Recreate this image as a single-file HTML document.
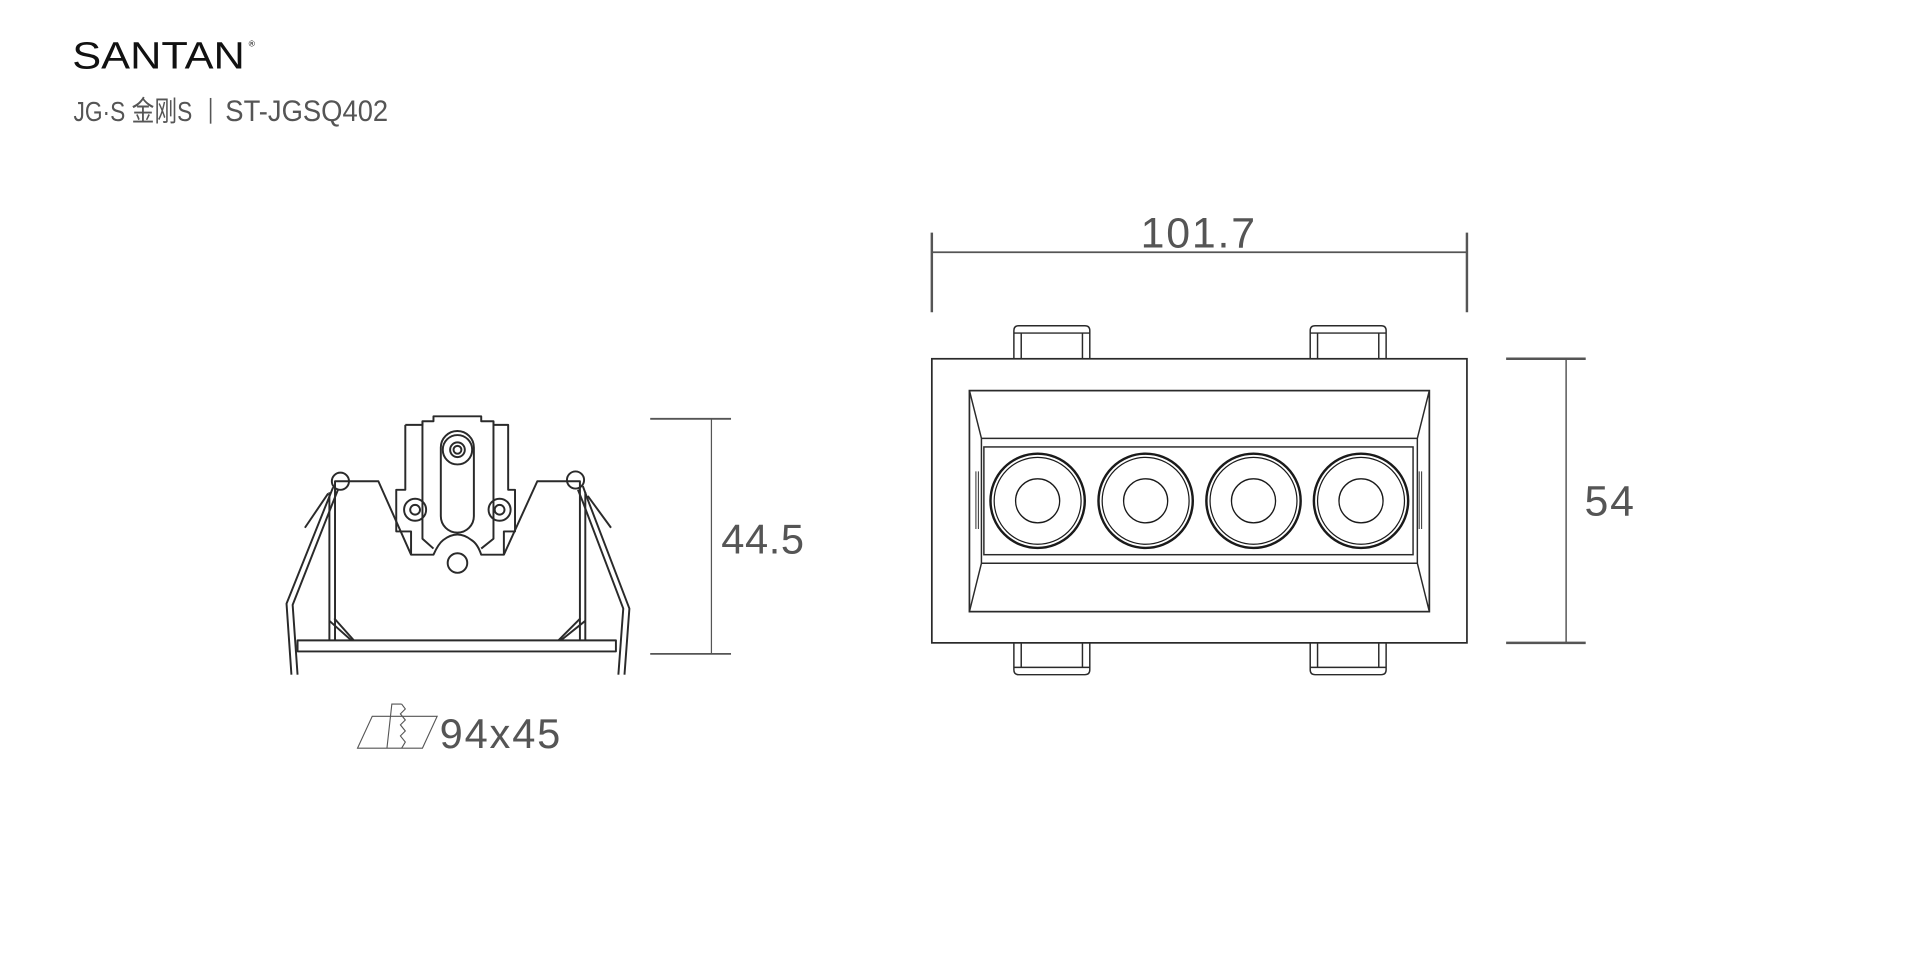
<!DOCTYPE html>
<html><head><meta charset="utf-8"><style>
html,body{margin:0;padding:0;background:#fff;width:1920px;height:960px;overflow:hidden}
svg{display:block}
text{font-family:"Liberation Sans","Noto Sans CJK SC",sans-serif}
</style></head><body>
<svg width="1920" height="960" viewBox="0 0 1568 784" xmlns="http://www.w3.org/2000/svg">
<rect width="1568" height="784" fill="#fff"/>
<!-- header -->
<text x="59" y="56" font-size="31" fill="#111" textLength="141" lengthAdjust="spacingAndGlyphs">SANTAN</text>
<text x="203" y="38" font-size="7" fill="#111">®</text>
<text x="60" y="99" font-size="23" fill="#555" textLength="97" lengthAdjust="spacingAndGlyphs">JG·S 金刚S</text>
<line x1="172" y1="80" x2="172" y2="101" stroke="#555" stroke-width="1.3"/>
<text x="184" y="99" font-size="24" fill="#555" textLength="133" lengthAdjust="spacingAndGlyphs">ST-JGSQ402</text>

<!-- LEFT VIEW -->
<g fill="none" stroke="#2a2a2a" stroke-width="1.6" stroke-linejoin="round">
  <circle cx="278" cy="393" r="7"/>
  <path d="M272 398 L268 408 L234 493 L238 551"/>
  <path d="M276 400 L272 410 L239 494 L243 551"/>
  <path d="M249 431 L268 403"/>
  <circle cx="470" cy="392" r="7"/>
  <path d="M476 397 L480 408 L514 497 L510 551"/>
  <path d="M472 400 L476 410 L509 497 L505 551"/>
  <path d="M499 431 L480 405"/>
  <rect x="243" y="523" width="260" height="9"/>
  <line x1="269" y1="402" x2="269" y2="523"/>
  <line x1="478" y1="402" x2="478" y2="523"/>
  <path d="M269 507 L287 523 M273 505 L289 523"/>
  <path d="M478 507 L458 523 M474 505 L456 523"/>
  <path d="M273.6 523 L273.6 393 L309 393 L335.7 453 L354 453 Q358 444 362 441 Q373.6 432 385 441 Q390 444 393 453 L411.5 453 L438.8 393 L473.6 393 L473.6 523"/>
  <path d="M331 347 L345 347 L345 344 L354 344 L354 340 L393 340 L393 344 L403 344 L403 347 L415 347 L415 400 L420.6 400 L420.6 434 L411.5 434 L411.5 453"/>
  <path d="M331 347 L331 400 L323.6 400 L323.6 434 L335.7 434 L335.7 453"/>
  <path d="M345 344 L345 440 L354 448"/>
  <path d="M403 344 L403 440 L393 448"/>
  <rect x="360" y="352" width="27" height="83" rx="13.5"/>
  <circle cx="373.6" cy="367.3" r="12"/>
  <circle cx="373.6" cy="367.3" r="6"/>
  <circle cx="373.6" cy="367.3" r="3.2"/>
  <circle cx="339" cy="416.3" r="9"/>
  <circle cx="339" cy="416.3" r="4"/>
  <circle cx="408" cy="416.3" r="9"/>
  <circle cx="408" cy="416.3" r="4"/>
  <circle cx="373.6" cy="459.8" r="8"/>
</g>
<g stroke="#555" stroke-width="1.5">
  <line x1="531" y1="342" x2="597" y2="342"/>
  <line x1="531" y1="534" x2="597" y2="534"/>
  <line x1="581" y1="342" x2="581" y2="534" stroke-width="1"/>
</g>
<text x="589" y="452" font-size="34" fill="#555" letter-spacing="0.5">44.5</text>
<g fill="none" stroke="#555" stroke-width="0.9">
  <path d="M292 611 L304 585 L357 585 L345 611 Z"/>
  <path d="M316 611 L320 575 L328 575"/>
  <path d="M328 575 L331 579 L327 583 L331 588 L327 592 L331 597 L327 601 L331 606 L328 611"/>
</g>
<text x="359" y="611" font-size="34" fill="#555" letter-spacing="1.5">94x45</text>

<!-- RIGHT VIEW -->
<g stroke="#555" stroke-width="1.5">
  <line x1="761" y1="190" x2="761" y2="255" stroke-width="2"/>
  <line x1="1198" y1="190" x2="1198" y2="255" stroke-width="2"/>
  <line x1="761" y1="206" x2="1198" y2="206"/>
  <line x1="1230" y1="293" x2="1295" y2="293" stroke-width="2"/>
  <line x1="1230" y1="525" x2="1295" y2="525" stroke-width="2"/>
  <line x1="1279" y1="293" x2="1279" y2="525" stroke-width="1.2"/>
</g>
<text x="979" y="202" font-size="35" fill="#555" text-anchor="middle" letter-spacing="1.5">101.7</text>
<text x="1294" y="421" font-size="35" fill="#555" letter-spacing="1.5">54</text>

<g fill="none" stroke="#2a2a2a" stroke-width="1.2">
  <path d="M828 293 L828 270 Q828 266 832 266 L886 266 Q890 266 890 270 L890 293"/>
  <path d="M834 293 L834 272 L884 272 L884 293 M828 272 L890 272"/>
  <path d="M1070 293 L1070 270 Q1070 266 1074 266 L1128 266 Q1132 266 1132 270 L1132 293"/>
  <path d="M1076 293 L1076 272 L1126 272 L1126 293 M1070 272 L1132 272"/>
  <path d="M828 525 L828 547 Q828 551 832 551 L886 551 Q890 551 890 547 L890 525"/>
  <path d="M834 525 L834 545 L884 545 L884 525 M828 545 L890 545"/>
  <path d="M1070 525 L1070 547 Q1070 551 1074 551 L1128 551 Q1132 551 1132 547 L1132 525"/>
  <path d="M1076 525 L1076 545 L1126 545 L1126 525 M1070 545 L1132 545"/>
  <rect x="761" y="293" width="437" height="232" stroke-width="1.4"/>
  <rect x="791.7" y="319" width="375.6" height="180.5" stroke-width="1.4"/>
  <path d="M791.7 319 L801.5 358 L801.5 460 L791.7 499.5"/>
  <path d="M1167.3 319 L1157.5 358 L1157.5 460 L1167.3 499.5"/>
  <line x1="801.5" y1="358" x2="1157.5" y2="358"/>
  <line x1="801.5" y1="460" x2="1157.5" y2="460"/>
  <rect x="803.5" y="365" width="350.5" height="88"/>
  <path d="M797 385 L797 432 M799 385 L799 432 M1161 385 L1161 432 M1159 385 L1159 432" stroke-width="0.8"/>
</g>
<g fill="none" stroke="#1a1a1a">
  <g transform="translate(847.4 409)"><circle r="38.5" stroke-width="2"/><circle r="35.5" stroke-width="1"/><circle r="18" stroke-width="1.1"/></g>
  <g transform="translate(935.6 409)"><circle r="38.5" stroke-width="2"/><circle r="35.5" stroke-width="1"/><circle r="18" stroke-width="1.1"/></g>
  <g transform="translate(1023.7 409)"><circle r="38.5" stroke-width="2"/><circle r="35.5" stroke-width="1"/><circle r="18" stroke-width="1.1"/></g>
  <g transform="translate(1111.5 409)"><circle r="38.5" stroke-width="2"/><circle r="35.5" stroke-width="1"/><circle r="18" stroke-width="1.1"/></g>
</g>
</svg>
</body></html>
